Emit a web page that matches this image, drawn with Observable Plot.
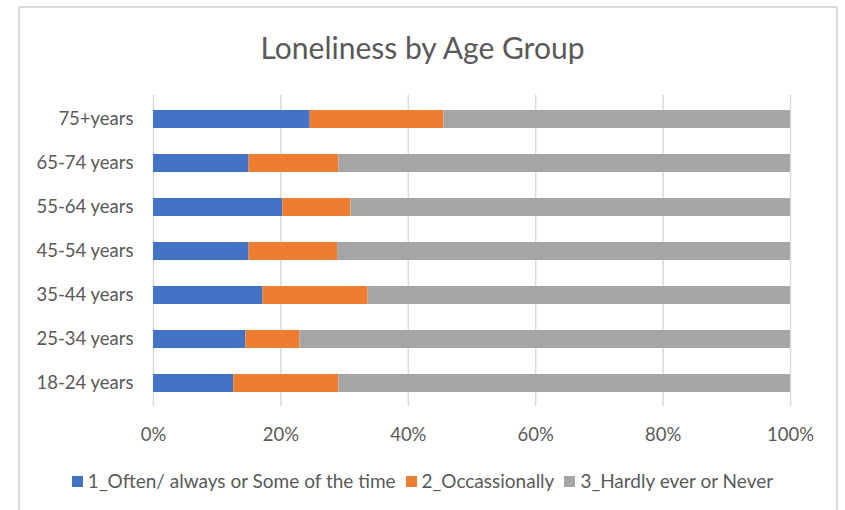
<!DOCTYPE html>
<html>
<head>
<meta charset="utf-8">
<script src="https://cdn.jsdelivr.net/npm/d3@7"></script>
<script src="https://cdn.jsdelivr.net/npm/@observablehq/plot@0.6"></script>
<style>
  html, body { margin: 0; padding: 0; background: #fff; }
  body { width: 845px; height: 510px; position: relative; overflow: hidden; font-family: Lato, "Open Sans", sans-serif; }
  #frame { position: absolute; left: 18px; top: 6px; width: 820px; height: 520px; border: 2px solid #d9d9d9; box-sizing: border-box; }
  #title { position: absolute; left: 0; width: 845px; top: 29px; text-align: center; font-size: 30px; color: #595959; line-height: 36px; }
  #chart { position: absolute; left: 0; top: 0; }
  #legend { position: absolute; left: 0; width: 845px; top: 469px; display: flex; justify-content: center; gap: 10px; font-size: 19px; color: #595959; line-height: 24px; }
  .item { display: flex; align-items: center; }
  .sw { width: 11px; height: 11px; margin-right: 5px; display: inline-block; }
</style>
</head>
<body>
<div id="frame"></div>
<div id="title">Loneliness by Age Group</div>
<div id="chart"></div>
<div id="legend"></div>
<script>
const ageGroups = ["75+years", "65-74 years", "55-64 years", "45-54 years", "35-44 years", "25-34 years", "18-24 years"];
const seriesNames = ["1_Often/ always or Some of the time", "2_Occassionally", "3_Hardly ever or Never"];
const seriesColors = ["#4472C4", "#ED7D31", "#A5A5A5"];
const often        = [24.6, 15.0, 20.3, 15.0, 17.2, 14.5, 12.6];
const occasionally = [21.0, 14.1, 10.7, 13.9, 16.5,  8.5, 16.5];
const hardly       = [54.4, 70.9, 69.0, 71.1, 66.3, 77.0, 70.9];
const xTicks = [0, 20, 40, 60, 80, 100];

const seriesValues = [often, occasionally, hardly];
const rows = [];
seriesNames.forEach((s, si) => {
  ageGroups.forEach((g, gi) => rows.push({age: g, series: s, value: seriesValues[si][gi]}));
});

const chart = Plot.plot({
  width: 845,
  height: 460,
  marginTop: 95,
  marginBottom: 54,
  marginLeft: 153,
  marginRight: 55,
  style: {fontFamily: "Lato, 'Open Sans', sans-serif", fontSize: "18.5px", color: "#595959", background: "transparent"},
  x: {domain: [0, 100], ticks: xTicks, tickFormat: d => d + "%", label: null},
  y: {domain: ageGroups, paddingInner: 0.6, paddingOuter: 0.29, label: null},
  color: {domain: seriesNames, range: seriesColors},
  marks: [
    Plot.gridX(xTicks, {stroke: "#d9d9d9", strokeOpacity: 1, strokeWidth: 1.5}),
    Plot.barX(rows, Plot.stackX({x: "value", y: "age", fill: "series", order: seriesNames})),
    Plot.axisX({ticks: xTicks, tickFormat: d => d + "%", tickSize: 0, tickPadding: 21, fill: "#595959"}),
    Plot.axisY({tickSize: 0, tickPadding: 20, fill: "#595959"})
  ]
});
document.getElementById("chart").appendChild(chart);

const legend = document.getElementById("legend");
seriesNames.forEach((s, i) => {
  const item = document.createElement("div");
  item.className = "item";
  const sw = document.createElement("span");
  sw.className = "sw";
  sw.style.background = seriesColors[i];
  item.appendChild(sw);
  item.appendChild(document.createTextNode(s));
  legend.appendChild(item);
});
</script>
</body>
</html>
